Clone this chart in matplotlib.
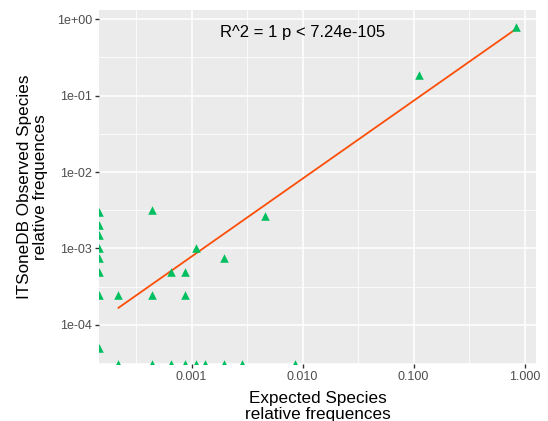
import numpy as np
import matplotlib
matplotlib.use("Agg")
import matplotlib.pyplot as plt
from matplotlib.ticker import FixedLocator, NullFormatter

# ---- data (0 = value outside the log range, drawn at the panel edge) ----
expected = [0, 0, 0, 0, 0, 0, 0, 0,
            2.19e-4, 4.38e-4, 4.38e-4, 6.57e-4, 8.76e-4, 8.76e-4, 1.095e-3, 1.97e-3,
            4.6e-3, 0.112, 0.835,
            2.19e-4, 4.38e-4, 6.57e-4, 8.76e-4, 1.095e-3, 1.31e-3, 1.97e-3, 2.85e-3, 8.5e-3]
observed = [3.0e-3, 2.0e-3, 1.5e-3, 1.0e-3, 7.5e-4, 5.0e-4, 2.5e-4, 5.0e-5,
            2.5e-4, 3.2e-3, 2.5e-4, 5.0e-4, 5.0e-4, 2.5e-4, 1.0e-3, 7.5e-4,
            2.7e-3, 0.185, 0.79,
            0, 0, 0, 0, 0, 0, 0, 0, 0]

fit_intercept = -0.05   # log10 space
fit_slope = 1.018

x_ticks = [0.001, 0.010, 0.100, 1.000]
x_tick_labels = ["0.001", "0.010", "0.100", "1.000"]
y_ticks = [1e-4, 1e-3, 1e-2, 1e-1, 1e0]
y_tick_labels = ["1e-04", "1e-03", "1e-02", "1e-01", "1e+00"]

annotation = "R^2 = 1 p < 7.24e-105"

xlim = (10**-3.835, 10**0.102)
ylim = (10**-4.51, 10**0.118)

plt.rcParams['font.family'] = ['Liberation Sans', 'DejaVu Sans']

fig = plt.figure(figsize=(5.48, 4.21), dpi=100)
ax = fig.add_axes([99/548, 57/421, (536-99)/548, (364-10)/421])
ax.set_facecolor("#EBEBEB")
ax.set_xscale("log")
ax.set_yscale("log")
ax.set_xlim(*xlim)
ax.set_ylim(*ylim)

# grid
ax.xaxis.set_major_locator(FixedLocator(x_ticks))
ax.yaxis.set_major_locator(FixedLocator(y_ticks))
ax.xaxis.set_minor_locator(FixedLocator([10**(k+0.5) for k in range(-5, 1)]))
ax.yaxis.set_minor_locator(FixedLocator([10**(k+0.5) for k in range(-6, 1)]))
ax.xaxis.set_minor_formatter(NullFormatter())
ax.yaxis.set_minor_formatter(NullFormatter())
ax.set_xticklabels(x_tick_labels)
ax.set_yticklabels(y_tick_labels)
ax.grid(which="major", color="white", linewidth=1.1)
ax.grid(which="minor", color="white", linewidth=0.55)
ax.set_axisbelow(True)
for s in ax.spines.values():
    s.set_visible(False)
ax.tick_params(which="major", length=3, width=1.0, color="#333333",
               labelcolor="#4D4D4D", labelsize=9, pad=2)
ax.tick_params(which="minor", length=0)

# points (zeros squished to panel edge)
ex = np.array(expected, dtype=float)
ob = np.array(observed, dtype=float)
px = np.where(ex > 0, ex, xlim[0])
py = np.where(ob > 0, ob, ylim[0])
ax.scatter(px, py, marker="^", s=38, color="#00BF5F", linewidths=0, zorder=3)

# regression line
pos = ex > 0
lx = np.log10([ex[pos].min(), ex[pos].max()])
ax.plot(10**lx, 10**(fit_intercept + fit_slope*lx), color="#FC4E07", linewidth=1.3, zorder=2)

ax.text(10**-2.0, 10**-0.18, annotation, fontsize=12, ha="center", va="center", color="black")

ax.set_xlabel("Expected Species\nrelative frequences", fontsize=12.3, labelpad=6, linespacing=1.1)
ax.set_ylabel("ITSoneDB Observed Species\nrelative frequences", fontsize=12.3, labelpad=6, linespacing=1.1)

fig.savefig("out.png", dpi=100)
